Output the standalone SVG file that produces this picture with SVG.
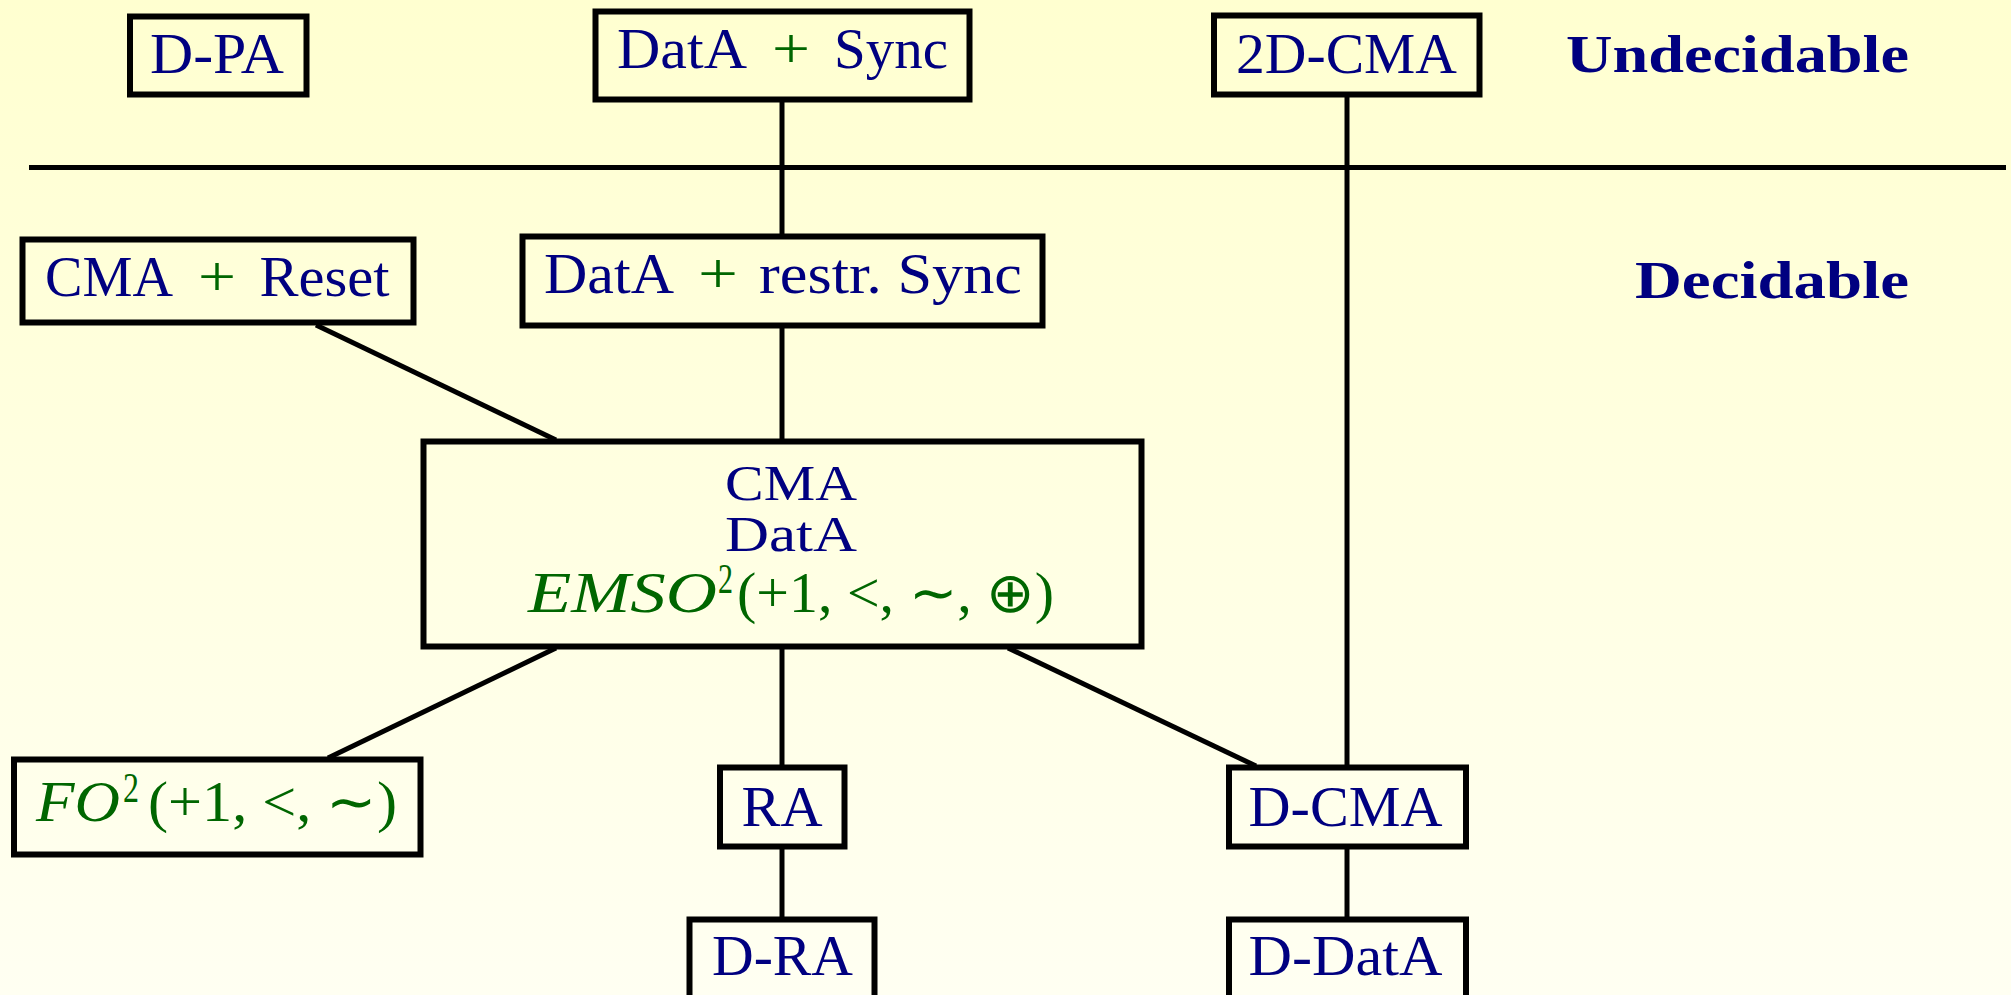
<svg xmlns="http://www.w3.org/2000/svg" width="2011" height="995" viewBox="0 0 2011 995">
  <defs>
    <linearGradient id="bg" x1="0" y1="0" x2="0" y2="1">
      <stop offset="0" stop-color="#ffffd0"/>
      <stop offset="1" stop-color="#fffff2"/>
    </linearGradient>
    <style>
      .box { fill: none; stroke: #000; stroke-width: 6; }
      .edge { stroke: #000; stroke-width: 5; fill: none; }
      .sep { stroke: #000; stroke-width: 5; }
      .t { font-family: "Liberation Serif", "Times New Roman", serif; font-size: 56px; fill: #000080; }
      .ts { font-family: "Liberation Serif", "Times New Roman", serif; font-size: 50px; fill: #000080; }
      .g { font-family: "Liberation Serif", "Times New Roman", serif; font-size: 56px; fill: #006600; }
      .gi { font-family: "Liberation Serif", "Times New Roman", serif; font-size: 56px; font-style: italic; fill: #006600; }
      .sup { font-family: "Liberation Serif", "Times New Roman", serif; font-size: 42px; fill: #006600; }
      .h { font-family: "Liberation Serif", "Times New Roman", serif; font-size: 52px; font-weight: bold; fill: #000080; }
    </style>
  </defs>

  <rect x="0" y="0" width="2011" height="995" fill="url(#bg)"/>

  <!-- separator between undecidable and decidable classes -->
  <line class="sep" x1="29" y1="167.5" x2="2006" y2="167.5"/>
  <text class="h" x="1566" y="72" textLength="343" lengthAdjust="spacingAndGlyphs">Undecidable</text>
  <text class="h" x="1635" y="298" textLength="274" lengthAdjust="spacingAndGlyphs">Decidable</text>

  <!-- connectors -->
  <g id="connectors">
    <line class="edge" x1="782" y1="101" x2="782" y2="236"/>
    <line class="edge" x1="1347" y1="96" x2="1347" y2="767"/>
    <line class="edge" x1="316" y1="325" x2="556" y2="440"/>
    <line class="edge" x1="782" y1="327" x2="782" y2="441"/>
    <line class="edge" x1="556" y1="648" x2="328" y2="758"/>
    <line class="edge" x1="782" y1="648" x2="782" y2="767"/>
    <line class="edge" x1="1008" y1="648" x2="1256" y2="766"/>
    <line class="edge" x1="782" y1="848" x2="782" y2="919"/>
    <line class="edge" x1="1347" y1="848" x2="1347" y2="919"/>
  </g>

  <g id="n-dpa">
    <rect class="box" x="130" y="16.5" width="176.5" height="78"/>
    <text class="t" x="150" y="73" textLength="134" lengthAdjust="spacingAndGlyphs">D-PA</text>
  </g>

  <g id="n-data-sync">
    <rect class="box" x="595.5" y="11.5" width="374" height="88"/>
    <text class="t" x="617" y="68" textLength="130" lengthAdjust="spacingAndGlyphs">DatA</text>
    <text class="g" x="772" y="68" textLength="38" lengthAdjust="spacingAndGlyphs">+</text>
    <text class="t" x="834" y="68" textLength="114" lengthAdjust="spacingAndGlyphs">Sync</text>
  </g>

  <g id="n-2dcma">
    <rect class="box" x="1214" y="15.5" width="265.5" height="79"/>
    <text class="t" x="1236" y="73" textLength="221" lengthAdjust="spacingAndGlyphs">2D-CMA</text>
  </g>

  <g id="n-cma-reset">
    <rect class="box" x="22.5" y="239.5" width="391" height="83"/>
    <text class="t" x="45" y="296" textLength="128" lengthAdjust="spacingAndGlyphs">CMA</text>
    <text class="g" x="198" y="296" textLength="38" lengthAdjust="spacingAndGlyphs">+</text>
    <text class="t" x="259.5" y="296" textLength="130" lengthAdjust="spacingAndGlyphs">Reset</text>
  </g>

  <g id="n-data-restr-sync">
    <rect class="box" x="522.5" y="236.5" width="520" height="89"/>
    <text class="t" x="544" y="293" textLength="130" lengthAdjust="spacingAndGlyphs">DatA</text>
    <text class="g" x="698" y="293" textLength="40" lengthAdjust="spacingAndGlyphs">+</text>
    <text class="t" x="759" y="293" textLength="263" lengthAdjust="spacingAndGlyphs">restr. Sync</text>
  </g>

  <g id="n-cma-data-emso">
    <rect class="box" x="423.5" y="441.5" width="718" height="205"/>
    <text class="ts" x="725" y="500" textLength="132" lengthAdjust="spacingAndGlyphs">CMA</text>
    <text class="ts" x="725" y="551" textLength="132" lengthAdjust="spacingAndGlyphs">DatA</text>
    <text class="gi" x="528" y="612" textLength="189" lengthAdjust="spacingAndGlyphs">EMSO</text>
    <text class="sup" x="718" y="593" textLength="15" lengthAdjust="spacingAndGlyphs">2</text>
    <text class="g" x="737" y="612" textLength="317" lengthAdjust="spacingAndGlyphs">(+1, &lt;, ∼, ⊕)</text>
  </g>

  <g id="n-fo2">
    <rect class="box" x="14" y="759.5" width="406.5" height="95"/>
    <text class="gi" x="36" y="821" textLength="84" lengthAdjust="spacingAndGlyphs">FO</text>
    <text class="sup" x="123" y="802" textLength="16" lengthAdjust="spacingAndGlyphs">2</text>
    <text class="g" x="148" y="821" textLength="249" lengthAdjust="spacingAndGlyphs">(+1, &lt;, ∼)</text>
  </g>

  <g id="n-ra">
    <rect class="box" x="720" y="767.5" width="124.5" height="79"/>
    <text class="t" x="741.5" y="826" textLength="81" lengthAdjust="spacingAndGlyphs">RA</text>
  </g>

  <g id="n-dcma">
    <rect class="box" x="1229" y="767.5" width="237" height="79"/>
    <text class="t" x="1248.5" y="826" textLength="194" lengthAdjust="spacingAndGlyphs">D-CMA</text>
  </g>

  <g id="n-dra">
    <rect class="box" x="689.5" y="919.5" width="185" height="100"/>
    <text class="t" x="712" y="975" textLength="141" lengthAdjust="spacingAndGlyphs">D-RA</text>
  </g>

  <g id="n-ddata">
    <rect class="box" x="1229" y="919.5" width="237" height="100"/>
    <text class="t" x="1248.5" y="975" textLength="194" lengthAdjust="spacingAndGlyphs">D-DatA</text>
  </g>
</svg>
